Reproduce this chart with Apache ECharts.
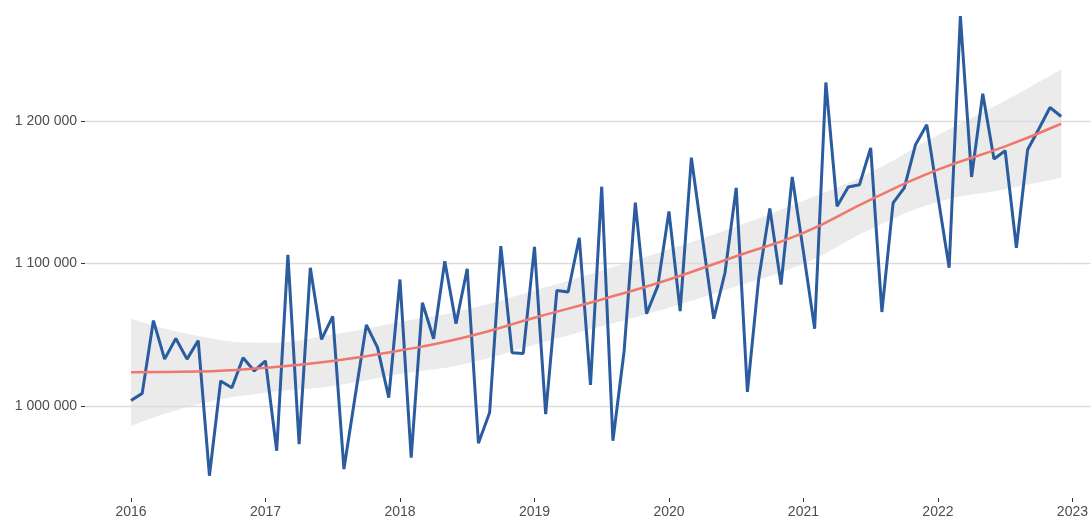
<!DOCTYPE html>
<html>
<head>
<meta charset="utf-8">
<script src="https://cdn.jsdelivr.net/npm/echarts@6/dist/echarts.min.js"></script>
<style>
  html, body { margin: 0; padding: 0; background: #fff; }
  #chart { width: 1091px; height: 519px; }
</style>
</head>
<body>
<div id="chart"></div>
<script>
// monthly values, 2016-01 .. 2022-12
const startYear = 2016;
const values = [
  1004000, 1009000, 1060000, 1033000, 1047500, 1033000, 1046000, 951300, 1017700, 1013000, 1034000, 1024700,
  1031700, 968800, 1106000, 973400, 1097000, 1046800, 1063000, 956000, 1007000, 1057000, 1041000, 1006000,
  1088800, 964000, 1072500, 1047300, 1101600, 1057800, 1096300, 974100, 995600, 1112100, 1037500, 1037000,
  1111700, 994400, 1081100, 1080000, 1118000, 1014900, 1153800, 975800, 1038700, 1142700, 1064800, 1084100,
  1136500, 1066700, 1174100, 1117000, 1061300, 1093500, 1153000, 1010000, 1088800, 1138500, 1085300, 1160600,
  1108000, 1054300, 1226800, 1140100, 1153600, 1155200, 1181000, 1066000, 1142500, 1153000, 1183200, 1197200,
  1147000, 1097000, 1273400, 1160600, 1218900, 1173200, 1179000, 1111000, 1179700, 1194200, 1209300, 1203000
];

// smooth trend + confidence band, read at these month indexes
const trendMonths = [0, 6, 12, 18, 24, 30, 36, 42, 48, 54, 60, 66, 72, 78, 83];
const trend = [1023800, 1024300, 1027000, 1031700, 1039000, 1048700, 1062000, 1074800, 1088800, 1105100, 1121500, 1144800, 1165700, 1182000, 1197900];
const bandLow = [986200, 1001400, 1009500, 1014200, 1022500, 1030000, 1043000, 1056000, 1069000, 1084000, 1100000, 1124000, 1143000, 1152000, 1160000];
const bandHigh = [1061300, 1049200, 1044500, 1050300, 1059000, 1068000, 1081000, 1095000, 1110000, 1126000, 1144000, 1164000, 1190000, 1214000, 1236000];

const yearTicks = [2016, 2017, 2018, 2019, 2020, 2021, 2022, 2023];
const yTicks = [1000000, 1100000, 1200000];

const toX = m => startYear + m / 12;
const fmt = v => String(v).replace(/\B(?=(\d{3})+(?!\d))/g, ' ');

const labelStyle = {
  color: '#4d4d4d',
  fontFamily: 'Liberation Sans, Arial, sans-serif',
  fontSize: 14
};

const chart = echarts.init(document.getElementById('chart'));
chart.setOption({
  animation: false,
  grid: { left: 85, right: 0, top: 0, bottom: 20, containLabel: false },
  xAxis: {
    type: 'value',
    min: 2015.658,
    max: 2023.134,
    axisLine: { show: false },
    splitLine: { show: false },
    axisTick: { show: true, customValues: yearTicks, length: 4, lineStyle: { color: '#333', width: 1 } },
    axisLabel: Object.assign({ customValues: yearTicks, formatter: v => String(v), margin: 7 }, labelStyle)
  },
  yAxis: {
    type: 'value',
    min: 935700,
    max: 1284600,
    axisLine: { show: false },
    splitLine: { show: false },
    axisTick: { show: true, customValues: yTicks, length: 4, lineStyle: { color: '#333', width: 1 } },
    axisLabel: Object.assign({ customValues: yTicks, formatter: fmt, margin: 8 }, labelStyle)
  },
  series: [
    {
      // upper edge of the band, filled down to the axis
      type: 'line',
      name: 'bandHigh',
      data: trendMonths.map((m, i) => [toX(m), bandHigh[i]]),
      smooth: true,
      symbol: 'none',
      silent: true,
      lineStyle: { width: 0 },
      areaStyle: { color: '#ebebeb', opacity: 1 },
      z: 1
    },
    {
      // lower edge of the band, white fill below it
      type: 'line',
      name: 'bandLow',
      data: trendMonths.map((m, i) => [toX(m), bandLow[i]]),
      smooth: true,
      symbol: 'none',
      silent: true,
      lineStyle: { width: 0 },
      areaStyle: { color: '#ffffff', opacity: 1 },
      z: 1
    },
    {
      type: 'line',
      name: 'value',
      data: values.map((v, i) => [toX(i), v]),
      symbol: 'none',
      lineStyle: { color: '#2a5c9f', width: 3 },
      z: 3,
      markLine: {
        silent: true,
        symbol: 'none',
        label: { show: false },
        lineStyle: { color: '#dcdcdc', width: 1.3, type: 'solid' },
        data: yTicks.map(v => ({ yAxis: v })),
        z: 2
      }
    },
    {
      type: 'line',
      name: 'trend',
      data: trendMonths.map((m, i) => [toX(m), trend[i]]),
      smooth: true,
      symbol: 'none',
      lineStyle: { color: '#f0776d', width: 2.5 },
      z: 4
    }
  ]
});
</script>
</body>
</html>
